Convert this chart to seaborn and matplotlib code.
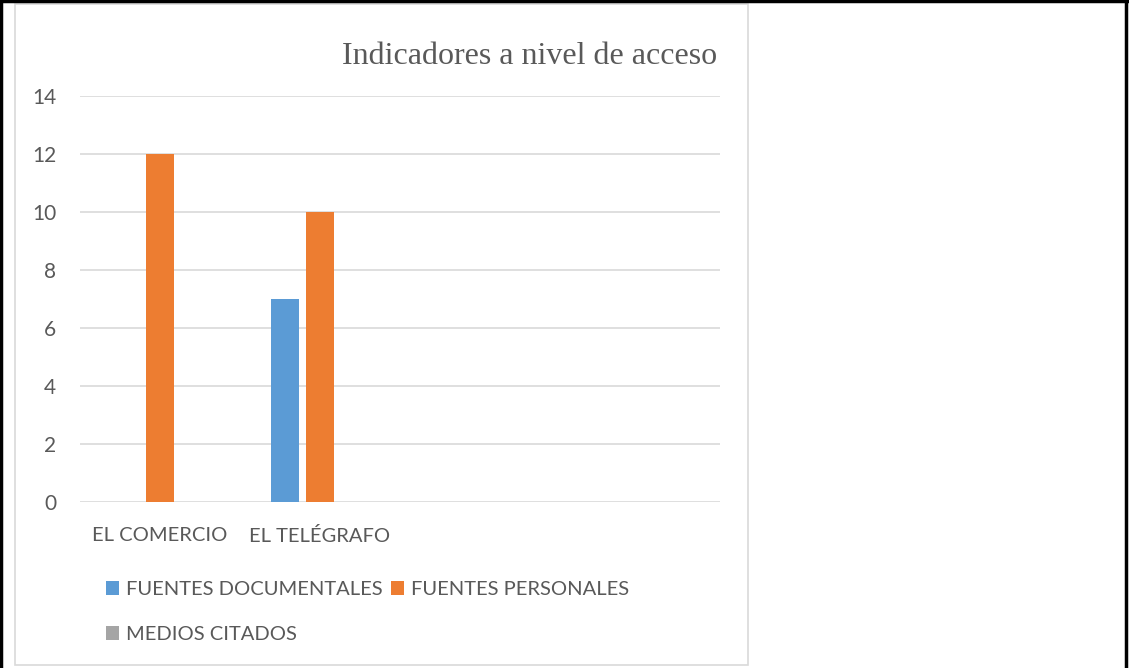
import pandas as pd
import seaborn as sns
import matplotlib.pyplot as plt
from matplotlib.patches import Rectangle
from matplotlib.lines import Line2D

# data
medios = ["EL COMERCIO", "EL TELÉGRAFO"]
extra_slots = ["", " "]  # two empty categories on the right
series = ["FUENTES DOCUMENTALES", "FUENTES PERSONALES", "MEDIOS CITADOS"]
fuentes_documentales = [0, 7]
fuentes_personales = [12, 10]
medios_citados = [0, 0]
colores = ["#5B9BD5", "#ED7D31", "#A5A5A5"]
y_ticks = [0, 2, 4, 6, 8, 10, 12, 14]

rows = []
for i, m in enumerate(medios):
    rows.append({"medio": m, "serie": series[0], "valor": fuentes_documentales[i]})
    rows.append({"medio": m, "serie": series[1], "valor": fuentes_personales[i]})
    rows.append({"medio": m, "serie": series[2], "valor": medios_citados[i]})
df = pd.DataFrame(rows)

sns.set_theme(style="white")
plt.rcParams["font.family"] = ["Lato", "DejaVu Sans"]
text_color = "#595959"
fs = 14.5

W, H = 1129, 668
fig = plt.figure(figsize=(W / 100, H / 100), dpi=100)
ax = fig.add_axes([80 / W, (H - 502) / H, 640 / W, 406 / H])

sns.barplot(data=df, x="medio", y="valor", hue="serie", order=medios + extra_slots,
            hue_order=series, palette=colores, width=0.65625, gap=0.2,
            linewidth=0, saturation=1, errorbar=None, ax=ax)

ax.set_ylim(0, 14)
ax.set_yticks(y_ticks)
ax.set_xlim(-0.5, 3.5)
ax.set_xlabel("")
ax.set_ylabel("")
ax.yaxis.grid(True, color="#D9D9D9", linewidth=1.2)
ax.set_axisbelow(True)
for s in ax.spines.values():
    s.set_visible(False)
ax.tick_params(axis="y", length=0, pad=17, labelsize=15, labelcolor=text_color)
ax.tick_params(axis="x", length=0, pad=18, labelsize=fs, labelcolor=text_color)

handles, labels = ax.get_legend_handles_labels()
ax.get_legend().remove()
# legend fills column-first: put MEDIOS CITADOS under FUENTES DOCUMENTALES
idx = [0, 2, 1]
fig.legend([handles[i] for i in idx], [labels[i] for i in idx], ncol=2, loc="upper left",
           bbox_to_anchor=(106 / W, 1 - 581 / H), frameon=False,
           fontsize=fs, labelcolor=text_color, handlelength=0.65,
           handleheight=0.65, handletextpad=0.35, columnspacing=0.4,
           labelspacing=1.4, borderaxespad=0, borderpad=0)

fig.text(717 / W, 1 - 56 / H, "Indicadores a nivel de acceso", ha="right", va="center",
         fontsize=23, color=text_color, family="Liberation Serif")

# chart frame and outer border
fig.patches.append(Rectangle((15 / W, 1 - 665 / H), (748 - 15) / W, (665 - 4) / H,
                             transform=fig.transFigure, fill=False,
                             edgecolor="#D9D9D9", linewidth=1.2))
for xs, ys in [([0, 1], [0.999, 0.999]), ([0.001, 0.001], [0, 1]), ([0.9975, 0.9975], [0, 1])]:
    fig.lines.append(Line2D(xs, ys, transform=fig.transFigure, color="black", linewidth=2.5))

fig.savefig("out.png", dpi=100)
